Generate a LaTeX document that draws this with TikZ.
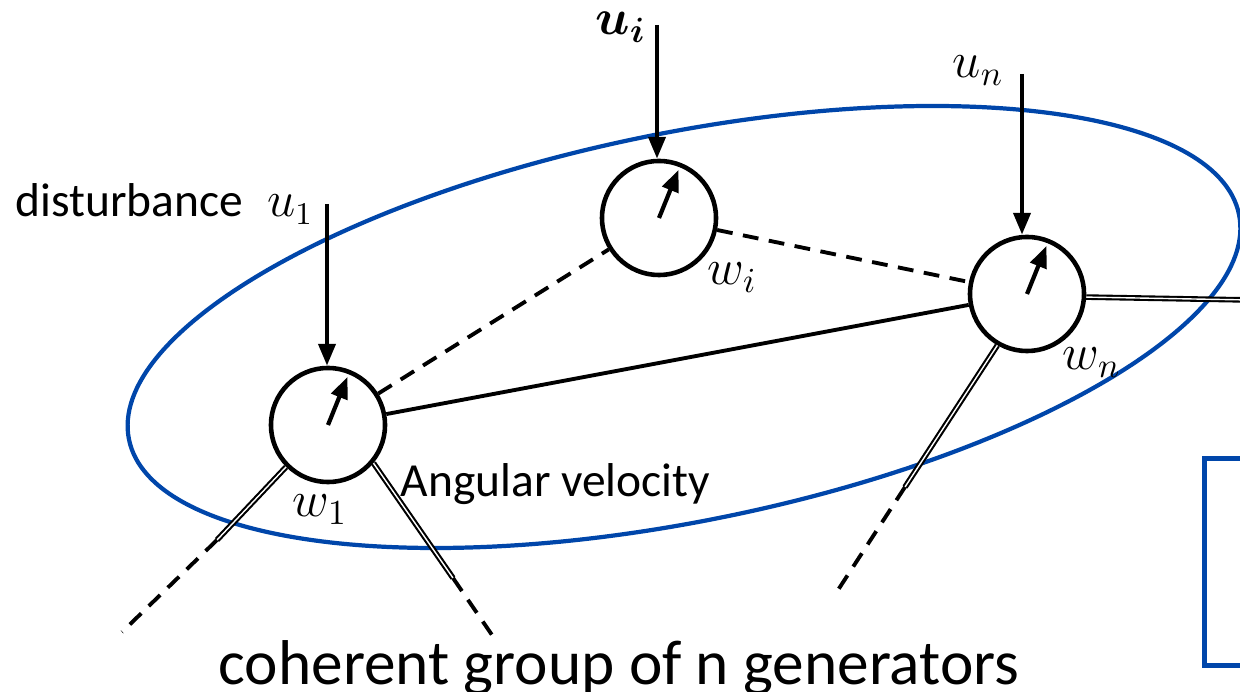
\documentclass[tikz,border=0pt]{standalone}
\usepackage{amsmath,amssymb}
\usepackage{fontspec}
\setmainfont{Carlito}
\usetikzlibrary{arrows.meta}
\definecolor{groupblue}{RGB}{0,70,170}

\begin{document}
\begin{tikzpicture}[
    x=0.01cm, y=-0.01cm,
    gen/.style={draw, circle, line width=1.3pt, minimum size=1.14cm, inner sep=0pt},
    arrow/.style={-{Triangle[length=6.2pt,width=4.8pt]}, line width=1.2pt},
    dashline/.style={dash pattern=on 4.5pt off 3pt, line width=1.1pt},
    busline/.style={draw=black, double=white, line width=0.6pt, double distance=0.4pt},
    lbl/.style={inner sep=0pt, anchor=base west, font=\fontsize{13.5}{16}\selectfont},
    mlbl/.style={inner sep=0pt, anchor=base west, font=\fontsize{14.5}{16}\selectfont}
]
\clip (0,0) rectangle (1240,692);

% coherent group
\draw[groupblue, line width=1.2pt, rotate around={11.45:(684,327)}] (684,327) ellipse [x radius=5.66cm, y radius=1.94cm];
\draw[groupblue, line width=1.4pt] (1204.5,458.5) rectangle (1300,665.5);

% generators
\node[gen] (g1) at (328,425) {};
\node[gen] (gi) at (659,218) {};
\node[gen] (gn) at (1027,294) {};

\draw[arrow] (g1.center) -- ++(-68:52);
\draw[arrow] (gi.center) -- ++(-68:52);
\draw[arrow] (gn.center) -- ++(-68:52);

% inputs
\coordinate (in1) at (327,204);
\coordinate (ini) at (657,25);
\coordinate (inn) at (1022,74);
\draw[arrow] (in1) -- (in1 |- g1.north);
\draw[arrow] (ini) -- (ini |- gi.north);
\draw[arrow] (inn) -- (inn |- gn.north);

% lines inside the group
\draw[dashline] (g1) -- (gi);
\draw[dashline] (gi) -- (gn);
\draw[line width=1.1pt] (g1) -- (gn);

% lines to the rest of the grid
\coordinate (a1) at (217,540);
\coordinate (a1end) at (122,632);
\coordinate (b1) at (453,578);
\coordinate (b1end) at (492,635);
\coordinate (an) at (905,487);
\coordinate (anend) at (838,590);
\coordinate (bnend) at (1250,300);
\draw[busline] (g1.-135) -- (a1);
\draw[dashline] (a1) -- (a1end);
\draw[busline] (g1.-40) -- (b1);
\draw[dashline] (b1) -- (b1end);
\draw[busline] (gn.-120) -- (an);
\draw[dashline] (an) -- (anend);
\draw[busline] (gn.-3) -- (bnend);

% labels
\node[lbl] (dist) at (15,217) {disturbance\enspace$u_1$};
\node[mlbl] (ui) at (595,35) {$\boldsymbol{u_i}$};
\node[mlbl] (un) at (952,78) {$u_n$};
\node[mlbl] (w1) at (292,517) {$w_1$};
\node[mlbl] (wi) at (707,285) {$w_i$};
\node[mlbl] (wn) at (1062,370) {$w_n$};
\node[lbl] (ang) at (400,497) {Angular velocity};
\node[lbl, font=\fontsize{18}{20}\selectfont] (title) at (218,685) {coherent group of n generators};

\end{tikzpicture}
\end{document}
